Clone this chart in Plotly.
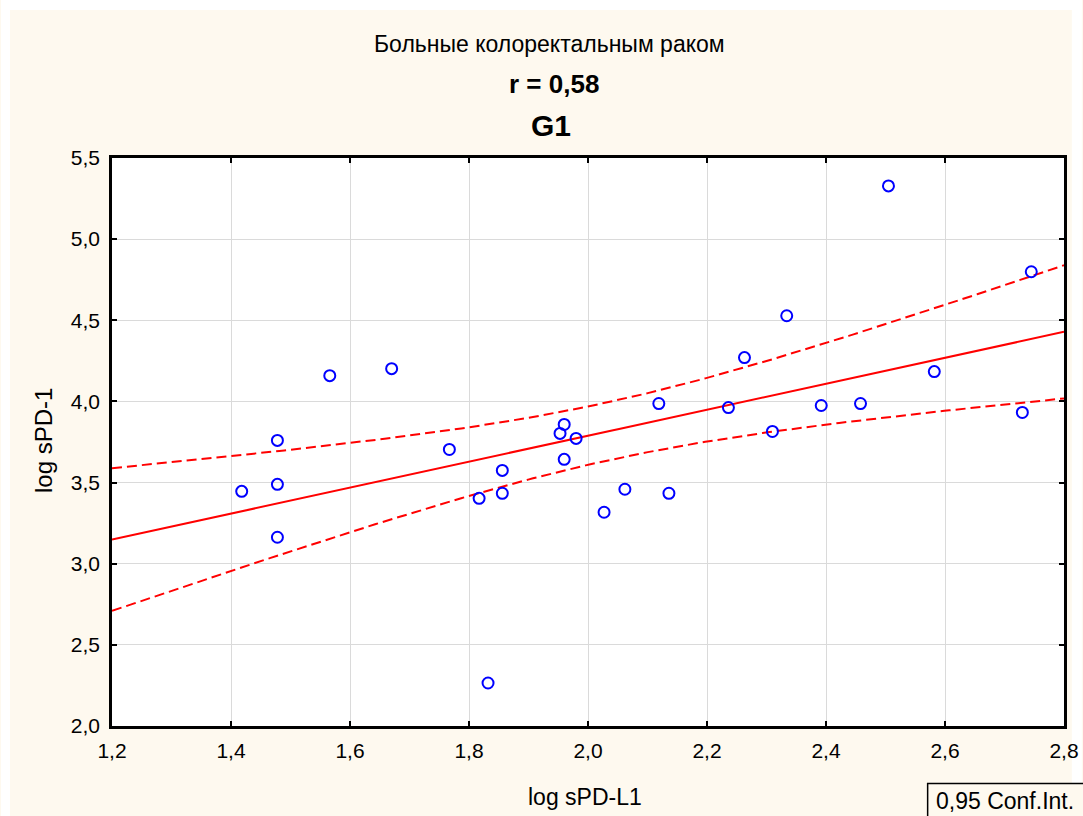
import numpy as np
import plotly.graph_objects as go

x_vals = [1.418, 1.478, 1.478, 1.478, 1.566, 1.670, 1.767, 1.817, 1.832, 1.856,
          1.856, 1.953, 1.960, 1.980, 1.960, 2.027, 2.062, 2.119, 2.136, 2.236,
          2.263, 2.310, 2.334, 2.392, 2.458, 2.505, 2.582, 2.730, 2.745]
y_vals = [3.446, 3.760, 3.489, 3.163, 4.159, 4.202, 3.704, 3.403, 2.265, 3.575,
          3.434, 3.803, 3.858, 3.772, 3.643, 3.317, 3.459, 3.987, 3.434, 3.962,
          4.270, 3.815, 4.528, 3.975, 3.987, 5.328, 4.184, 3.932, 4.799]

x_ticks = [1.2, 1.4, 1.6, 1.8, 2.0, 2.2, 2.4, 2.6, 2.8]
y_ticks = [2.0, 2.5, 3.0, 3.5, 4.0, 4.5, 5.0, 5.5]
title_main = "Больные колоректальным раком"
title_r = "r = 0,58"
title_g = "G1"
x_title = "log sPD-L1"
y_title = "log sPD-1"
legend_text = "0,95 Conf.Int."

CREAM = "#FEF9EF"
FONT = "Arial"

x = np.array(x_vals)
y = np.array(y_vals)
n = len(x)
b, a = np.polyfit(x, y, 1)
xs = np.linspace(1.2, 2.8, 200)
yhat = a + b * xs
resid = y - (a + b * x)
s = np.sqrt(np.sum(resid ** 2) / (n - 2))
sxx = np.sum((x - x.mean()) ** 2)
t = 2.052
half = t * s * np.sqrt(1.0 / n + (xs - x.mean()) ** 2 / sxx)

fig = go.Figure()
fig.add_trace(go.Scatter(x=xs, y=yhat + half, mode="lines",
                         line=dict(color="#FF0000", width=2, dash="10px,5px"), hoverinfo="skip"))
fig.add_trace(go.Scatter(x=xs, y=yhat - half, mode="lines",
                         line=dict(color="#FF0000", width=2, dash="10px,5px"), hoverinfo="skip"))
fig.add_trace(go.Scatter(x=xs, y=yhat, mode="lines",
                         line=dict(color="#FF0000", width=2), hoverinfo="skip"))
fig.add_trace(go.Scatter(x=x_vals, y=y_vals, mode="markers",
                         marker=dict(symbol="circle-open", size=11, color="#0000FF",
                                     line=dict(width=2, color="#0000FF"))))

axis_common = dict(showline=True, linecolor="black", linewidth=2.5, mirror="ticks",
                   ticks="inside", ticklen=5, tickwidth=2, tickcolor="black",
                   showgrid=True, gridcolor="#DADADA", gridwidth=1, zeroline=False,
                   tickfont=dict(family=FONT, size=21, color="black"))

fig.update_xaxes(range=[1.2, 2.8], tickvals=x_ticks, ticklabelstandoff=4,
                 ticktext=[f"{v:.1f}".replace(".", ",") for v in x_ticks], **axis_common)
fig.update_yaxes(range=[2.0, 5.5], tickvals=y_ticks, ticklabelstandoff=5,
                 ticktext=[f"{v:.1f}".replace(".", ",") for v in y_ticks], **axis_common)

# target layout in screen pixels (horizontal positions get compensated by K)
SW, H = 1083, 816
K = 1091.0 / 1083.0
W = int(round(SW * K))
L = int(round(111 * K))
PR = 1065 * K
R = int(round(W - PR))
T, B = 158, 90
pw, ph = W - L - R, H - T - B

def px2x(p):
    return (p * K - L) / pw

def py2y(p):
    return (H - B - p) / ph

def ann(text, px, py, size, **kw):
    d = dict(text=text, x=px2x(px), y=py2y(py), xref="paper", yref="paper",
             xanchor="center", yanchor="middle", showarrow=False,
             font=dict(family=FONT, size=size, color="black"))
    d.update(kw)
    return d

annotations = [
    ann(title_main, 550, 44, 23),
    ann("<b>" + title_r + "</b>", 554, 84, 26),
    ann("<b>" + title_g + "</b>", 551, 125, 30),
    ann(x_title, 585, 797, 23),
    ann(y_title, 42, 440, 24, textangle=-90),
    ann(legend_text, 935, 801, 23, xanchor="left"),
]

right_edge = (W - L) / pw
shapes = [
    dict(type="rect", xref="paper", yref="paper", x0=px2x(0), x1=px2x(9),
         y0=py2y(H), y1=py2y(0), fillcolor="white", line=dict(width=0), layer="below"),
    dict(type="rect", xref="paper", yref="paper", x0=px2x(1073), x1=right_edge,
         y0=py2y(H), y1=py2y(0), fillcolor="white", line=dict(width=0), layer="below"),
    dict(type="rect", xref="paper", yref="paper", x0=px2x(0), x1=right_edge,
         y0=py2y(10), y1=py2y(0), fillcolor="white", line=dict(width=0), layer="below"),
    dict(type="rect", xref="paper", yref="paper", x0=px2x(928.5), x1=right_edge + 0.01,
         y0=py2y(H + 5), y1=py2y(783.5), fillcolor=CREAM,
         line=dict(width=1.5, color="black"), layer="below"),
]

fig.update_layout(width=W, height=H, autosize=False,
                  margin=dict(l=L, r=R, t=T, b=B, pad=0),
                  paper_bgcolor=CREAM, plot_bgcolor="white", showlegend=False,
                  font=dict(family=FONT, color="black"),
                  annotations=annotations, shapes=shapes)

fig.write_html("out.html", config={"displayModeBar": False},
               post_script="document.body.style.margin='0px';document.body.style.overflow='hidden';")
